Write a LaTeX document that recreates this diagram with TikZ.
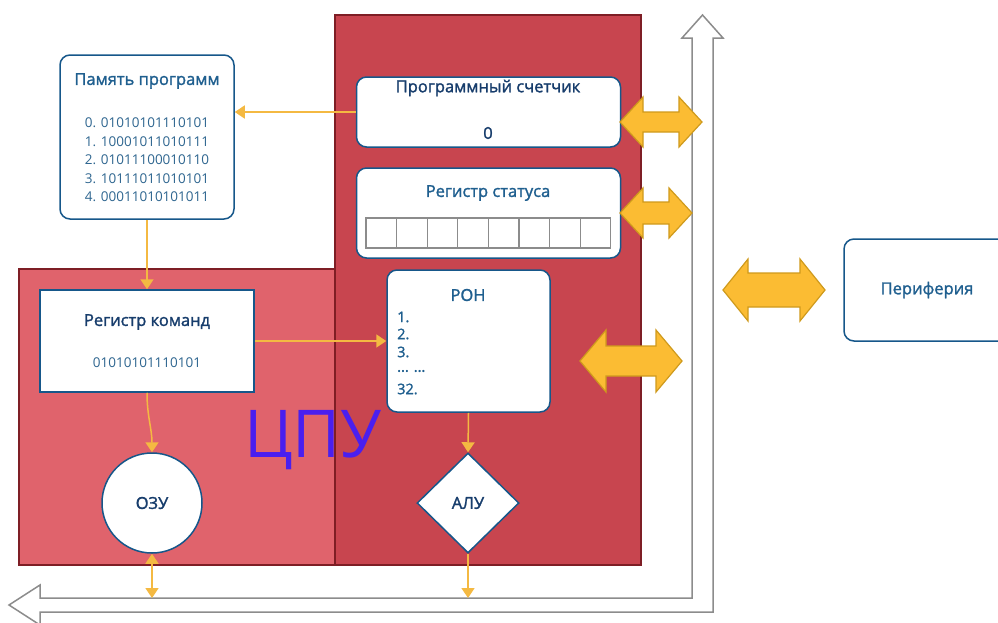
\documentclass[tikz,border=0pt]{standalone}
\usepackage{fontspec}
\setmainfont{Open Sans}
\newfontfamily\semibold[FakeBold=1.5]{Open Sans}
\usetikzlibrary{shapes.geometric,arrows.meta,calc}

\definecolor{cpulight}{HTML}{E0636C}
\definecolor{cpudark}{HTML}{C8454F}
\definecolor{cpuedge}{HTML}{7E1E25}
\definecolor{boxblue}{HTML}{16578A}
\definecolor{navy}{HTML}{173D6C}
\definecolor{teal}{HTML}{1F5F8F}
\definecolor{codeblue}{HTML}{2F6690}
\definecolor{linkorange}{HTML}{F4B942}
\definecolor{arrowfill}{HTML}{FBBC33}
\definecolor{arrowedge}{HTML}{CF9A1C}
\definecolor{busgray}{HTML}{8C8C8C}
\definecolor{cpublue}{HTML}{4A1FEF}

\tikzstyle{block}=[draw=boxblue, fill=white, line width=1.5pt, rounded corners=10pt, inner sep=0pt]
\tikzstyle{sqblock}=[draw=boxblue, fill=white, line width=1.5pt, inner sep=0pt]
\tikzstyle{title}=[font=\semibold\fontsize{16.5}{18}\selectfont, text=navy]
\tikzstyle{subtitle}=[font=\semibold\fontsize{16.5}{18}\selectfont, text=teal]
\tikzstyle{code}=[font=\fontsize{13.5}{16}\selectfont, text=codeblue]
\tikzstyle{ronitem}=[font=\semibold\fontsize{14.5}{16}\selectfont, text=teal, anchor=west, inner sep=0pt]
\tikzstyle{cell}=[draw=busgray, line width=1.2pt]
\tikzstyle{link}=[draw=linkorange, line width=1.5pt, ->]
\tikzstyle{dblarrow}=[draw=arrowedge, fill=arrowfill, line width=1.2pt]
\tikzstyle{bus}=[draw=busgray, fill=white, line width=1.5pt]
\tikzstyle{cpulabel}=[font=\fontsize{66}{70}\selectfont, text=cpublue]

\begin{document}
\begin{tikzpicture}[x=1pt, y=-1pt, >={Triangle[length=10pt,width=13pt]}]

  \useasboundingbox (0,0) rectangle (998,622);

  % CPU
  \draw[cpuedge, line width=1.2pt, fill=cpulight] (19,269) rectangle (335,565);
  \draw[cpuedge, line width=1.2pt, fill=cpudark] (335,15) rectangle (641,565);

  % system bus
  \draw[bus] (702.5,15) -- (723,38) -- (713,38) -- (713,612) -- (40,612) -- (40,625) -- (9,605)
        -- (40,585) -- (40,598) -- (692,598) -- (692,38) -- (682,38) -- cycle;
  \coordinate (busO) at (152,598);
  \coordinate (busA) at (468,598);

  % blocks
  \node[block, minimum width=174pt, minimum height=164pt] (mem) at (147,137) {};
  \node[sqblock, minimum width=214pt, minimum height=102pt] (cmd) at (147,341) {};
  \node[block, minimum width=264pt, minimum height=70pt] (pc) at (488.5,112) {};
  \node[block, minimum width=264pt, minimum height=90pt] (st) at (488.5,213) {};
  \node[block, minimum width=163pt, minimum height=142pt] (ron) at (468.5,341) {};
  \node[sqblock, circle, minimum size=100pt] (ozu) at (152,503) {};
  \node[sqblock, diamond, aspect=1, minimum width=102pt, minimum height=100pt] (alu) at (468,503) {};
  \node[block, minimum width=166pt, minimum height=102pt] (per) at (927,290) {};

  \foreach \i in {0,...,7}
     \draw[cell] (366+\i*30.6,218) rectangle +(30.6,30);

  % texts
  \node[subtitle] (memT) at (147,81) {Память программ};
  \foreach \i/\code in {0/01010101110101, 1/10001011010111, 2/01011100010110, 3/10111011010101, 4/00011010101011}
     \node[code] (mem\i) at (147,123+\i*18.5) {\i. \code};
  \node[title] (cmdT) at (147,322) {Регистр команд};
  \node[code] (cmdV) at (147,363) {01010101110101};
  \node[title] (pcT) at (488,88) {Программный счетчик};
  \node[title] (pcV) at (488,133) {0};
  \node[subtitle] (stT) at (488,193) {Регистр статуса};
  \node[subtitle] (ronT) at (468,295) {РОН};
  \foreach \n/\y/\name in {1./317/r1, 2./334/r2, 3./352/r3, {... ...}/371/rdots, 32./389/r32}
     \node[ronitem] (\name) at (397,\y) {\n};
  \node[title] (ozuT) at (152,503) {ОЗУ};
  \node[title] (aluT) at (468,503) {АЛУ};
  \node[subtitle] (perT) at (927,290) {Периферия};
  \node[cpulabel] (cpu) at (313,440) {ЦПУ};

  % links
  \draw[link] (pc.west) -- (pc.west -| mem.east);
  \draw[link] (mem.south) -- (cmd.north);
  \draw[link] (cmd.east) -- (ron.west);
  \draw[link] (cmd.south) to[out=-90, in=90] (ozu.north);
  \draw[link, <->] (ozu.south) -- (busO);
  \draw[link] (ron.south) -- (alu.north);
  \draw[link] (alu.south) -- (busA);

  % double arrows to the bus
  \foreach \xa/\xb/\y/\s/\h/\l in {620/702/122/10/25/23, 620/692/213/11/25/23, 580/682/361/15/31/26, 723/825/290/17/31/25}
     \draw[dblarrow] (\xa,\y) -- (\xa+\l,\y-\h) -- (\xa+\l,\y-\s) -- (\xb-\l,\y-\s) -- (\xb-\l,\y-\h) -- (\xb,\y)
        -- (\xb-\l,\y+\h) -- (\xb-\l,\y+\s) -- (\xa+\l,\y+\s) -- (\xa+\l,\y+\h) -- cycle;

\end{tikzpicture}
\end{document}
